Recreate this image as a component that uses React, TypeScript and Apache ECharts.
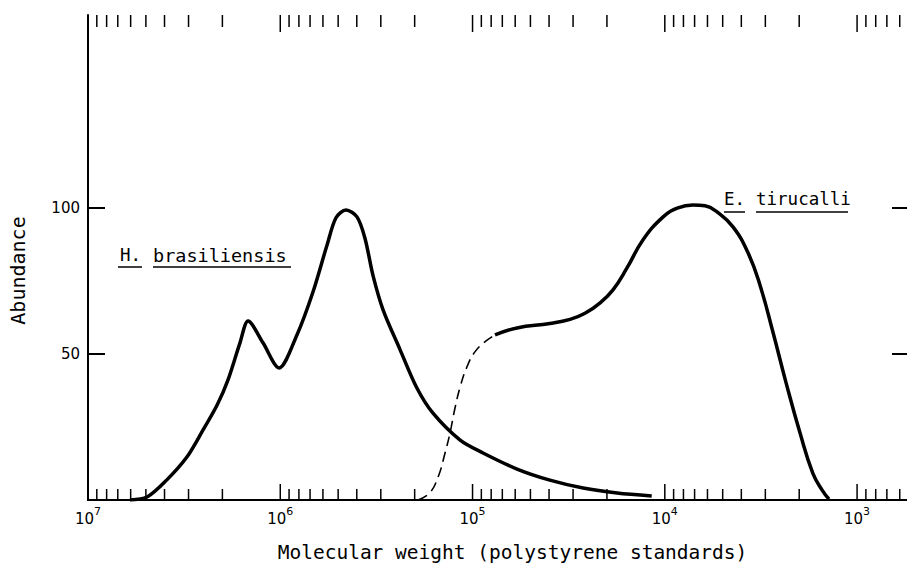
import React, { useEffect, useRef } from "react";
import * as echarts from "echarts";

// H. brasiliensis (solid)
const hbMW = [6.05e6, 4.93e6, 3.9e6, 3.06e6, 2.52e6, 2.13e6, 1.87e6, 1.62e6, 1.47e6, 1.23e6, 1.015e6, 8.19e5, 6.76e5, 5.71e5, 5.13e5, 4.55e5, 3.99e5, 3.63e5, 3.29e5, 2.92e5, 2.38e5, 1.95e5, 1.61e5, 1.16e5, 8.82e4, 5.87e4, 3.96e4, 2.66e4, 1.77e4, 1.17e4];
const hbAbund = [0, 1.0, 6.8, 14.7, 24.0, 32.5, 41.1, 53.8, 61.3, 53.8, 45.2, 56.5, 71.2, 87.3, 96.6, 99.3, 96.9, 89.7, 76.7, 65.1, 51.4, 38.4, 29.8, 20.5, 16.1, 10.6, 6.8, 4.1, 2.4, 1.4];

// E. tirucalli, dashed part
const etDashMW = [1.92e5, 1.67e5, 1.51e5, 1.39e5, 1.31e5, 1.24e5, 1.16e5, 1.07e5, 9.72e4, 8.63e4, 7.64e4];
const etDashAbund = [0, 2.4, 7.9, 16.1, 22.9, 30.8, 38.7, 45.5, 50.7, 54.1, 56.5];

// E. tirucalli, solid part
const etMW = [7.64e4, 5.87e4, 3.96e4, 3.11e4, 2.6e4, 2.17e4, 1.86e4, 1.57e4, 1.3e4, 1.02e4, 8.54e3, 7.14e3, 6.18e3, 5.35e3, 4.42e3, 3.69e3, 3.2e3, 2.74e3, 2.34e3, 1.98e3, 1.7e3, 1.52e3, 1.4e3];
const etAbund = [56.5, 58.9, 60.4, 61.8, 63.9, 67.5, 71.9, 79.5, 89.0, 96.9, 100.0, 101.0, 100.7, 98.6, 93.5, 84.6, 73.6, 57.5, 40.1, 22.9, 9.2, 3.4, 0.3];

// axes
const X_MIN = 537;
const X_MAX = 1e7;
const Y_MIN = 0;
const Y_MAX = 166;
const yTickValues = [50, 100];
const decades = [1e2, 1e3, 1e4, 1e5, 1e6];
const mantissas = [1, 2, 3, 4, 5, 6, 7, 8, 9];

const FONT = "DejaVu Sans";
const MONO = "DejaVu Sans Mono";

function zip(xs: number[], ys: number[]) {
  return xs.map((x, i) => [x, ys[i]]);
}

export default function App() {
  const ref = useRef<HTMLDivElement>(null);
  useEffect(() => {
    if (!ref.current) return;
    const chart = echarts.init(ref.current, null, { renderer: "svg" });

    const tickData: number[][] = [];
    decades.forEach((d) => {
      mantissas.forEach((m) => {
        const v = m * d;
        if (v > X_MIN && v < X_MAX) tickData.push([v, m === 1 ? 1 : 0]);
      });
    });

    const xAxisBase = {
      type: "log",
      logBase: 10,
      inverse: true,
      min: X_MIN,
      max: X_MAX,
      axisLine: { show: true, lineStyle: { color: "#000", width: 2 } },
      axisTick: { show: false },
      minorTick: { show: false },
      splitLine: { show: false },
    };
    const yAxisBase = {
      type: "value",
      min: Y_MIN,
      max: Y_MAX,
      axisLine: { show: true, lineStyle: { color: "#000", width: 2 } },
      axisTick: { show: true, inside: true, length: 17, customValues: yTickValues, lineStyle: { color: "#000", width: 2 } },
      splitLine: { show: false },
    };

    const lineCommon = {
      type: "line",
      showSymbol: false,
      symbol: "none",
      xAxisIndex: 0,
      yAxisIndex: 0,
    };

    chart.setOption({
      animation: false,
      backgroundColor: "#fff",
      grid: { left: 88, top: 15, right: -2, bottom: 67, containLabel: false, outerBoundsMode: "none" },
      xAxis: [
        {
          ...xAxisBase,
          position: "bottom",
          name: "Molecular weight (polystyrene standards)",
          nameLocation: "middle",
          nameGap: 42,
          nameTextStyle: { fontFamily: MONO, fontSize: 19.5, color: "#000", padding: [0, 0, 0, 28] },
          axisLabel: {
            show: true,
            margin: 6,
            color: "#000",
            formatter: (v: number) => {
              const e = Math.log10(v);
              const r = Math.round(e);
              if (Math.abs(e - r) > 1e-6) return "";
              return "{b|10}{s|" + r + "}";
            },
            rich: {
              b: { fontFamily: FONT, fontSize: 15, color: "#000", lineHeight: 20, verticalAlign: "bottom" },
              s: { fontFamily: FONT, fontSize: 11, color: "#000", lineHeight: 20, verticalAlign: "top" },
            },
          },
        },
        { ...xAxisBase, position: "top", axisLabel: { show: false } },
      ],
      yAxis: [
        {
          ...yAxisBase,
          position: "left",
          name: "Abundance",
          nameLocation: "middle",
          nameGap: 60,
          nameRotate: 90,
          nameTextStyle: { fontFamily: MONO, fontSize: 20, color: "#000", padding: [0, 26, 0, 0] },
          axisLabel: { show: true, customValues: yTickValues, margin: 8, fontFamily: FONT, fontSize: 15, color: "#000" },
        },
        { ...yAxisBase, position: "right", axisLabel: { show: false } },
      ],
      graphic: [
        { type: "text", left: 120, top: 246, style: { text: "H.", fontFamily: MONO, fontSize: 17.5, fill: "#000" } },
        { type: "text", left: 153, top: 246, style: { text: "brasiliensis", fontFamily: MONO, fontSize: 18.5, fill: "#000" } },
        { type: "line", shape: { x1: 118, y1: 267, x2: 142, y2: 267 }, style: { stroke: "#000", lineWidth: 1.5 } },
        { type: "line", shape: { x1: 153, y1: 267, x2: 291, y2: 267 }, style: { stroke: "#000", lineWidth: 1.5 } },
        { type: "text", left: 724, top: 190, style: { text: "E.", fontFamily: MONO, fontSize: 17.5, fill: "#000" } },
        { type: "text", left: 756, top: 190, style: { text: "tirucalli", fontFamily: MONO, fontSize: 17.5, fill: "#000" } },
        { type: "line", shape: { x1: 724, y1: 212, x2: 745, y2: 212 }, style: { stroke: "#000", lineWidth: 1.5 } },
        { type: "line", shape: { x1: 756, y1: 212, x2: 848, y2: 212 }, style: { stroke: "#000", lineWidth: 1.5 } },
      ],
      series: [
        {
          ...lineCommon,
          name: "H. brasiliensis",
          smooth: 0.3,
          data: zip(hbMW, hbAbund),
          lineStyle: { color: "#000", width: 3.5 },
        },
        {
          ...lineCommon,
          name: "E. tirucalli (dashed)",
          smooth: 0.45,
          data: zip(etDashMW, etDashAbund),
          lineStyle: { color: "#000", width: 1.6, type: [10, 6] },
        },
        {
          ...lineCommon,
          name: "E. tirucalli",
          smooth: 0.45,
          data: zip(etMW, etAbund),
          lineStyle: { color: "#000", width: 3.5 },
        },
        {
          type: "custom",
          name: "log ticks",
          silent: true,
          xAxisIndex: 0,
          yAxisIndex: 0,
          data: tickData,
          encode: { x: 0, y: 1 },
          renderItem: (params: any, api: any) => {
            const v = api.value(0);
            const major = api.value(1) === 1;
            const b = api.coord([v, Y_MIN]);
            const t = api.coord([v, Y_MAX]);
            const lb = major ? 16 : 11;
            const lt = major ? 17 : 12;
            return {
              type: "group",
              children: [
                { type: "line", shape: { x1: b[0], y1: b[1], x2: b[0], y2: b[1] - lb }, style: { stroke: "#000", lineWidth: 1.5 } },
                { type: "line", shape: { x1: t[0], y1: t[1], x2: t[0], y2: t[1] + lt }, style: { stroke: "#000", lineWidth: 1.5 } },
              ],
            };
          },
          z: 5,
        },
      ],
    });
    return () => chart.dispose();
  }, []);
  return <div ref={ref} style={{ position: "absolute", left: 0, top: 0, width: 907, height: 567 }} />;
}
